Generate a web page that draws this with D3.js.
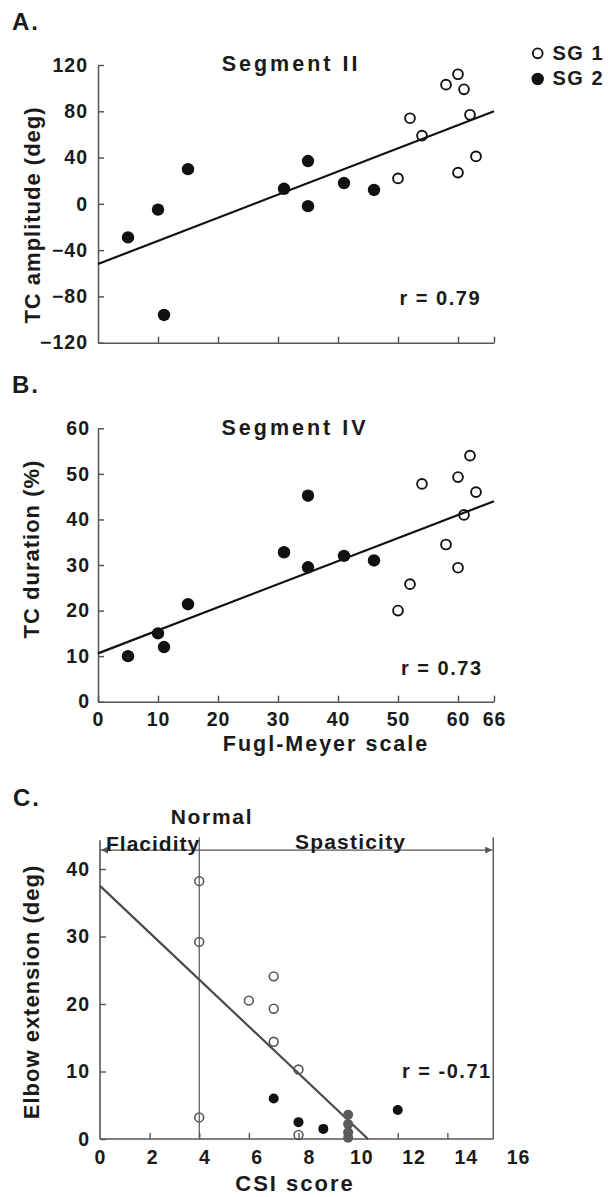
<!DOCTYPE html>
<html>
<head>
<meta charset="utf-8">
<script src="https://cdn.jsdelivr.net/npm/d3@7"></script>
<style>
  html, body { margin: 0; padding: 0; background: #fff; }
  svg { display: block; }
  text { font-family: "Liberation Sans", Arial, sans-serif; font-weight: bold; fill: #1a1a1a; }
</style>
</head>
<body>
<svg id="chart" width="608" height="1197"></svg>
<script>
// ---------- DATA ----------
// Panel A: Segment II, TC amplitude (deg) vs Fugl-Meyer
const fmA_sg1  = [50, 52, 54, 58, 60, 61, 60, 62, 63];
const ampA_sg1 = [22, 74, 59, 103, 112, 99, 27, 77, 41];
const fmA_sg2  = [5, 10, 11, 15, 31, 35, 35, 41, 46];
const ampA_sg2 = [-29, -5, -96, 30, 13, 37, -2, 18, 12];
const fitA_x = [0, 66];
const fitA_y = [-52, 80];
const yTicksA = [-120, -80, -40, 0, 40, 80, 120];

// Panel B: Segment IV, TC duration (%) vs Fugl-Meyer
const fmB_sg1  = [50, 52, 54, 58, 60, 60, 61, 62, 63];
const durB_sg1 = [20, 25.8, 47.8, 34.5, 49.3, 29.4, 41, 54, 46];
const fmB_sg2  = [5, 10, 11, 15, 31, 35, 35, 41, 46];
const durB_sg2 = [10, 15, 12, 21.4, 32.8, 45.2, 29.5, 32, 31];
const fitB_x = [0, 66];
const fitB_y = [10.6, 44];
const yTicksB = [0, 10, 20, 30, 40, 50, 60];
const xTicksFM = [0, 10, 20, 30, 40, 50, 60, 66];

// Panel C: Elbow extension (deg) vs CSI score
const csiOpen   = [4, 4, 4, 6, 7, 7, 7, 8, 8];
const extOpen   = [38.2, 29.2, 3.2, 20.5, 24.1, 19.3, 14.4, 10.3, 0.6];
const csiFilled = [7, 8, 9, 12];
const extFilled = [6, 2.5, 1.5, 4.3];
const csiGrey   = [10, 10, 10, 10];
const extGrey   = [3.6, 2.2, 1.0, 0.2];
const fitC_x = [0, 10.8];
const fitC_y = [37.5, 0];
const xTicksC = [0, 2, 4, 6, 8, 10, 12, 14, 16];
const yTicksC = [0, 10, 20, 30, 40];
const csiNormal = 4;       // Normal boundary
const csiRight = 15.85;    // right frame
const extTop = 44.7;       // top of frame lines
const extArrow = 42.8;     // arrow level

// ---------- DRAW ----------
const svg = d3.select("#chart");
const AX = "#555";
const zip = (a, b) => a.map((v, i) => [v, b[i]]);

function styleAxis(g, color, width) {
  g.selectAll("path.domain").attr("stroke", color).attr("stroke-width", width);
  g.selectAll(".tick line").attr("stroke", color).attr("stroke-width", width);
  g.selectAll(".tick text")
    .attr("font-family", '"Liberation Sans", Arial, sans-serif')
    .attr("font-weight", "bold").attr("font-size", 19.5)
    .attr("letter-spacing", 1).attr("fill", "#1a1a1a");
}

function label(txt, x, y, opts = {}) {
  const t = svg.append("text").text(txt)
    .attr("font-size", opts.size || 21)
    .attr("letter-spacing", opts.ls != null ? opts.ls : 1)
    .attr("text-anchor", opts.anchor || "start");
  if (opts.rotate) {
    t.attr("transform", `translate(${x},${y}) rotate(-90)`).attr("dy", "0.35em");
  } else {
    t.attr("x", x).attr("y", y);
  }
  if (opts.fill) t.style("fill", opts.fill);
  return t;
}

// ---- Panel A ----
const xA = d3.scaleLinear().domain([0, 66]).range([98, 494]);
const yA = d3.scaleLinear().domain([-120, 120]).range([342.7, 65]);

const gxA = svg.append("g").attr("transform", `translate(0,${yA(-120)})`)
  .call(d3.axisBottom(xA).tickValues([10, 20, 30, 40, 50, 60, 66])
    .tickSizeInner(-6).tickSizeOuter(0).tickFormat(""));
styleAxis(gxA, AX, 1.5);
const gyA = svg.append("g").attr("transform", `translate(${xA(0)},0)`)
  .call(d3.axisLeft(yA).tickValues(yTicksA).tickSizeInner(-6).tickSizeOuter(0).tickPadding(10));
styleAxis(gyA, AX, 1.5);

const line = (xs, ys) => d3.line().x(d => xs(d[0])).y(d => ys(d[1]));
svg.append("path").datum(zip(fitA_x, fitA_y)).attr("d", line(xA, yA))
  .attr("fill", "none").attr("stroke", "#111").attr("stroke-width", 2.2);

svg.append("g").selectAll("circle").data(zip(fmA_sg2, ampA_sg2)).join("circle")
  .attr("cx", d => xA(d[0])).attr("cy", d => yA(d[1])).attr("r", 6.2).attr("fill", "#111");
svg.append("g").selectAll("circle").data(zip(fmA_sg1, ampA_sg1)).join("circle")
  .attr("cx", d => xA(d[0])).attr("cy", d => yA(d[1])).attr("r", 4.9)
  .attr("fill", "none").attr("stroke", "#111").attr("stroke-width", 1.9);

label("A.", 12, 29.5, { size: 24, ls: 2 });
label("Segment II", 291, 70.5, { size: 21.5, ls: 3, anchor: "middle" });
label("TC amplitude (deg)", 32, 215, { size: 22, ls: 1, anchor: "middle", rotate: true });
label("r = 0.79", 399.5, 305, { size: 20, ls: 1.5 });

// Legend
svg.append("circle").attr("cx", 537.7).attr("cy", 53.3).attr("r", 4.9)
  .attr("fill", "none").attr("stroke", "#111").attr("stroke-width", 1.9);
svg.append("circle").attr("cx", 537.7).attr("cy", 79).attr("r", 6.2).attr("fill", "#111");
label("SG 1", 552.5, 59.5, { size: 20, ls: 1.5 });
label("SG 2", 552.5, 84.5, { size: 20, ls: 1.5 });

// ---- Panel B ----
const xB = d3.scaleLinear().domain([0, 66]).range([98, 494]);
const yB = d3.scaleLinear().domain([0, 60]).range([701.7, 428.3]);

const gxB = svg.append("g").attr("transform", `translate(0,${yB(0)})`)
  .call(d3.axisBottom(xB).tickValues(xTicksFM).tickSizeInner(-6).tickSizeOuter(0).tickPadding(10));
styleAxis(gxB, AX, 1.5);
const gyB = svg.append("g").attr("transform", `translate(${xB(0)},0)`)
  .call(d3.axisLeft(yB).tickValues(yTicksB).tickSizeInner(-6).tickSizeOuter(0).tickPadding(8));
styleAxis(gyB, AX, 1.5);

svg.append("path").datum(zip(fitB_x, fitB_y)).attr("d", line(xB, yB))
  .attr("fill", "none").attr("stroke", "#111").attr("stroke-width", 2.2);
svg.append("g").selectAll("circle").data(zip(fmB_sg2, durB_sg2)).join("circle")
  .attr("cx", d => xB(d[0])).attr("cy", d => yB(d[1])).attr("r", 6.2).attr("fill", "#111");
svg.append("g").selectAll("circle").data(zip(fmB_sg1, durB_sg1)).join("circle")
  .attr("cx", d => xB(d[0])).attr("cy", d => yB(d[1])).attr("r", 4.9)
  .attr("fill", "none").attr("stroke", "#111").attr("stroke-width", 1.9);

label("B.", 12, 393, { size: 24, ls: 2 });
label("Segment IV", 295, 434.5, { size: 21.5, ls: 3, anchor: "middle" });
label("TC duration (%)", 31, 549, { size: 22, ls: 1, anchor: "middle", rotate: true });
label("Fugl-Meyer scale", 326, 750.5, { size: 21.5, ls: 2, anchor: "middle" });
label("r = 0.73", 401, 675, { size: 20, ls: 1.5 });

// ---- Panel C ----
const xC = d3.scaleLinear().domain([0, 16]).range([100, 497]);
const xCl = d3.scaleLinear().domain([0, 16]).range([100, 518]);   // label placement as printed
const yC = d3.scaleLinear().domain([0, 40]).range([1139, 869]);
const GC = "#555";

// frame lines
svg.append("line").attr("x1", xC(0)).attr("x2", xC(csiRight)).attr("y1", yC(0)).attr("y2", yC(0))
  .attr("stroke", GC).attr("stroke-width", 1.6);
svg.append("line").attr("x1", xC(0)).attr("x2", xC(0)).attr("y1", yC(0)).attr("y2", yC(extTop) + 3)
  .attr("stroke", GC).attr("stroke-width", 1.6);
svg.append("line").attr("x1", xC(csiRight)).attr("x2", xC(csiRight)).attr("y1", yC(0)).attr("y2", yC(extTop))
  .attr("stroke", GC).attr("stroke-width", 1.4);
svg.append("line").attr("x1", xC(csiNormal)).attr("x2", xC(csiNormal)).attr("y1", yC(0)).attr("y2", yC(extTop))
  .attr("stroke", GC).attr("stroke-width", 1.2);

const gxC = svg.append("g").attr("transform", `translate(0,${yC(0)})`)
  .call(d3.axisBottom(xC).tickValues([2, 4, 6, 8, 10, 12, 14]).tickSizeInner(-6).tickSizeOuter(0).tickFormat(""));
styleAxis(gxC, GC, 1.4);
gxC.select("path.domain").remove();
const gxCl = svg.append("g").attr("transform", `translate(0,${yC(0)})`)
  .call(d3.axisBottom(xCl).tickValues(xTicksC).tickSize(0).tickPadding(11));
styleAxis(gxCl, GC, 1.4);
gxCl.select("path.domain").remove();
gxCl.selectAll(".tick line").remove();

const gyC = svg.append("g").attr("transform", `translate(${xC(0)},0)`)
  .call(d3.axisLeft(yC).tickValues(yTicksC).tickSizeInner(-6).tickSizeOuter(0).tickPadding(10));
styleAxis(gyC, GC, 1.4);
gyC.select("path.domain").remove();

// arrows
const defs = svg.append("defs");
defs.append("marker").attr("id", "arr").attr("viewBox", "0 0 10 10")
  .attr("refX", 10).attr("refY", 5).attr("markerWidth", 9).attr("markerHeight", 7)
  .attr("markerUnits", "userSpaceOnUse").attr("orient", "auto")
  .append("path").attr("d", "M0,0 L10,5 L0,10 Z").attr("fill", GC);
svg.append("line").attr("x1", xC(csiNormal)).attr("x2", xC(0) + 1).attr("y1", yC(extArrow)).attr("y2", yC(extArrow))
  .attr("stroke", GC).attr("stroke-width", 1.4).attr("marker-end", "url(#arr)");
svg.append("line").attr("x1", xC(csiNormal)).attr("x2", xC(csiRight) - 1).attr("y1", yC(extArrow)).attr("y2", yC(extArrow))
  .attr("stroke", GC).attr("stroke-width", 1.4).attr("marker-end", "url(#arr)");

svg.append("path").datum(zip(fitC_x, fitC_y)).attr("d", line(xC, yC))
  .attr("fill", "none").attr("stroke", "#4a4a4a").attr("stroke-width", 2.2);

svg.append("g").selectAll("circle").data(zip(csiOpen, extOpen)).join("circle")
  .attr("cx", d => xC(d[0])).attr("cy", d => yC(d[1])).attr("r", 4.4)
  .attr("fill", "none").attr("stroke", "#555").attr("stroke-width", 1.6);
svg.append("g").selectAll("circle").data(zip(csiFilled, extFilled)).join("circle")
  .attr("cx", d => xC(d[0])).attr("cy", d => yC(d[1])).attr("r", 5).attr("fill", "#111");
svg.append("g").selectAll("circle").data(zip(csiGrey, extGrey)).join("circle")
  .attr("cx", d => xC(d[0])).attr("cy", d => yC(d[1])).attr("r", 5).attr("fill", "#5a5a5a");

label("C.", 13, 806, { size: 24, ls: 2 });
label("Normal", 212, 824, { size: 21, ls: 1.7, anchor: "middle" });
label("Flacidity", 106, 850.5, { size: 21, ls: 1 });
label("Spasticity", 295, 848.5, { size: 21, ls: 1.2 });
label("Elbow extension (deg)", 31, 992, { size: 22, ls: 1, anchor: "middle", rotate: true });
label("CSI score", 295, 1190.5, { size: 22, ls: 2, anchor: "middle" });
label("r = -0.71", 402, 1078, { size: 20, ls: 1.5 });
</script>
</body>
</html>
